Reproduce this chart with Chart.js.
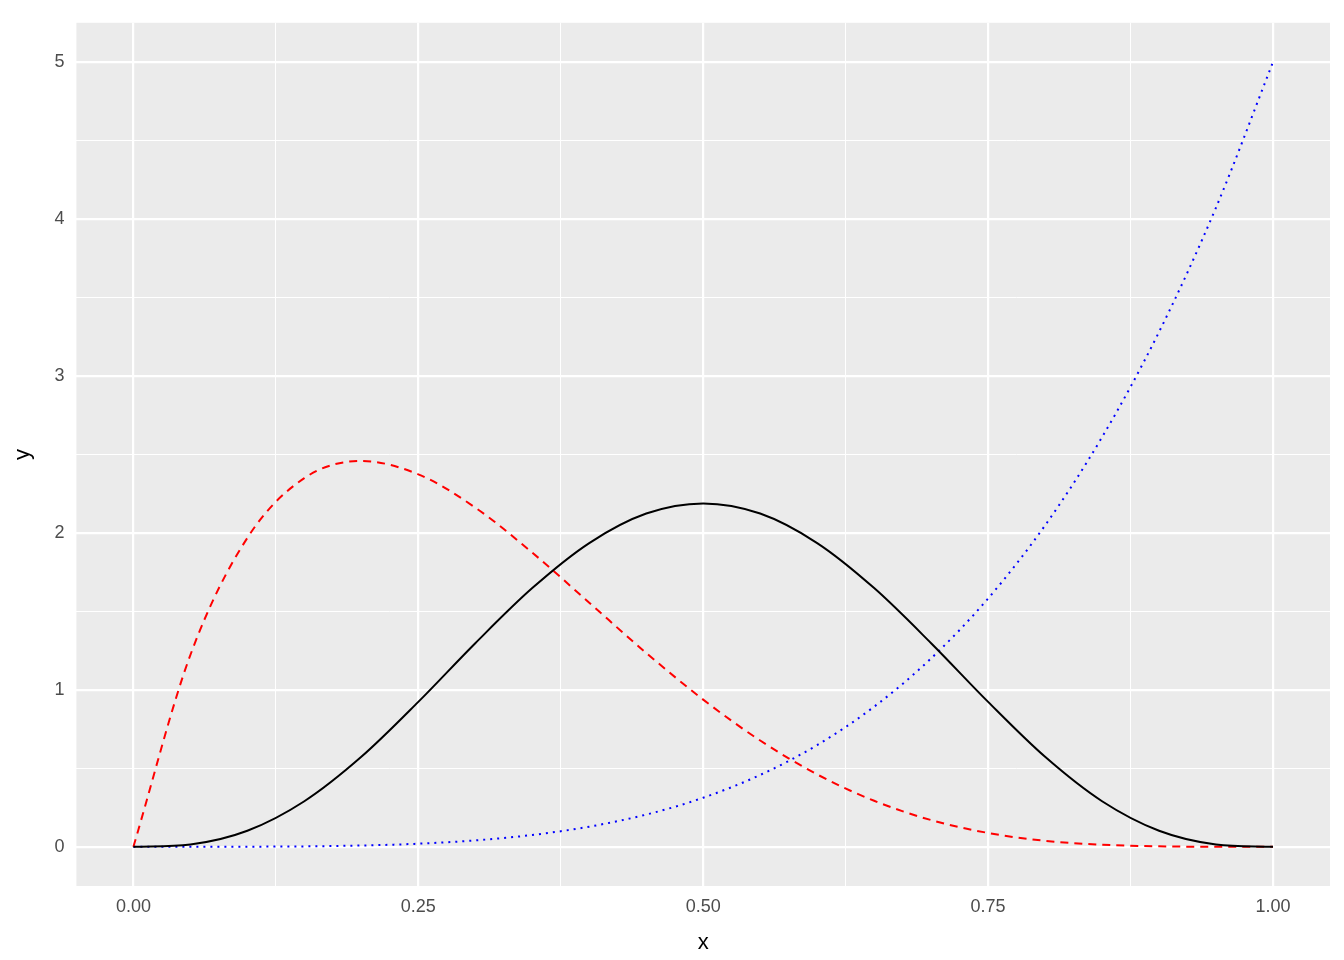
<!DOCTYPE html>
<html><head><meta charset="utf-8">
<script src="https://cdn.jsdelivr.net/npm/chart.js@4"></script>
<style>html,body{margin:0;background:#fff}#w{width:1344px;height:960px}</style>
</head><body><div id="w"><canvas id="c"></canvas></div>
<script>
const xs=[0,0.05,0.1,0.15,0.2,0.25,0.3,0.35,0.4,0.45,0.5,0.55,0.6,0.65,0.7,0.75,0.8,0.85,0.9,0.95,1];
const blackY=[0,0.015,0.102,0.290,0.573,0.923,1.297,1.648,1.935,2.123,2.1875,2.123,1.935,1.648,1.297,0.923,0.573,0.290,0.102,0.015,0];
const redY=[0,1.222,1.968,2.349,2.458,2.373,2.161,1.874,1.555,1.235,0.9375,0.677,0.461,0.293,0.170,0.088,0.038,0.013,0.0027,0.0002,0];
const blueY=[0,0.00003,0.0005,0.0025,0.008,0.0195,0.0405,0.075,0.128,0.205,0.3125,0.4575,0.648,0.8925,1.2005,1.582,2.048,2.61,3.2805,4.073,5];
const xTicks=[0,0.125,0.25,0.375,0.5,0.625,0.75,0.875,1];
const yTicks=[0,0.5,1,1.5,2,2.5,3,3.5,4,4.5,5];
const pts=ys=>xs.map((x,i)=>({x,y:ys[i]}));
const ds=(ys,color,dash)=>({data:pts(ys),borderColor:color,borderWidth:2,borderDash:dash,pointRadius:0,cubicInterpolationMode:'monotone',fill:false});
const bg={id:'bg',beforeDraw(c){const a=c.chartArea,g=c.ctx;g.save();g.fillStyle='#EBEBEB';g.fillRect(a.left,a.top,a.right-a.left,a.bottom-a.top);g.restore();}};
const isMajor=(v,step)=>Math.abs(v/step-Math.round(v/step))<1e-6;
Chart.defaults.font.family='Liberation Sans, Arial';
new Chart(document.getElementById('c'),{type:'line',
data:{datasets:[ds(blackY,'#000',[]),ds(redY,'#FF0000',[8,6]),ds(blueY,'#0000FF',[2,5])]},
options:{responsive:true,maintainAspectRatio:false,animation:false,
layout:{padding:{left:6,right:14,top:15,bottom:4}},
plugins:{legend:{display:false},tooltip:{enabled:false}},
scales:{
x:{type:'linear',min:-0.05,max:1.05,afterBuildTicks:a=>{a.ticks=xTicks.map(v=>({value:v}))},
 border:{display:false},
 grid:{color:'#fff',lineWidth:c=>isMajor(c.tick.value,0.25)?2.2:1,drawTicks:false},
 ticks:{padding:10,color:'#4D4D4D',font:{size:18},maxRotation:0,autoSkip:false,callback:v=>isMajor(v,0.25)?v.toFixed(2):''},
 title:{display:true,text:'x',color:'#000',font:{size:22},padding:{top:2,bottom:0}}},
y:{type:'linear',min:-0.25,max:5.25,afterBuildTicks:a=>{a.ticks=yTicks.map(v=>({value:v}))},
 border:{display:false},
 grid:{color:'#fff',lineWidth:c=>isMajor(c.tick.value,1)?2.2:1,drawTicks:false},
 ticks:{padding:12,color:'#4D4D4D',font:{size:18},autoSkip:false,callback:v=>isMajor(v,1)?String(v):''},
 title:{display:true,text:'y',color:'#000',font:{size:22},padding:{bottom:6}}}
}},plugins:[bg]});
</script></body></html>
